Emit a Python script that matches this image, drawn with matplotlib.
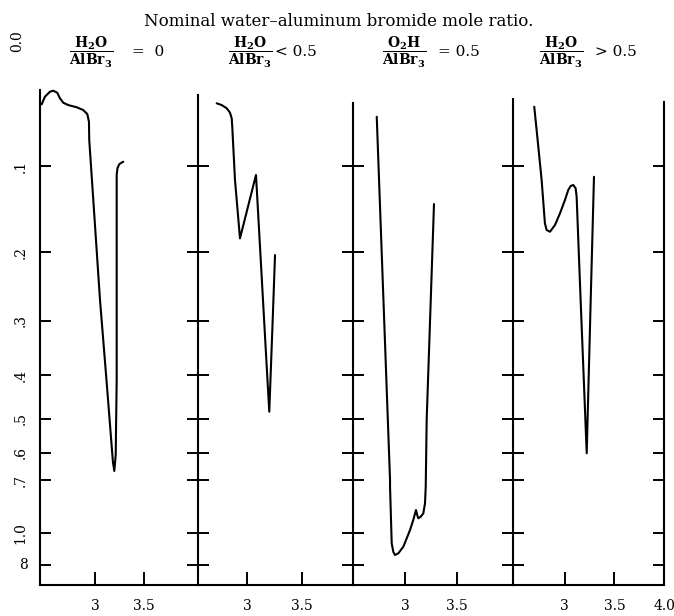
import numpy as np
import matplotlib
matplotlib.use("Agg")
import matplotlib.pyplot as plt

plt.rcParams['font.family'] = ['DejaVu Serif']
plt.rcParams['mathtext.fontset'] = 'dejavuserif'

# ---- spectra: wavelength (microns) vs absorbance, one trace per panel ----
wl_zero = [2.460, 2.493, 2.544, 2.578, 2.618, 2.645, 2.679, 2.729, 2.815, 2.881,
           2.922, 2.939, 2.942, 2.983, 3.051, 3.119, 3.182, 3.196, 3.210, 3.220,
           3.220, 3.220, 3.228, 3.248, 3.287]
abs_zero = [0.0403, 0.0335, 0.0291, 0.0282, 0.0300, 0.0349, 0.0389, 0.0410, 0.0430, 0.0455,
            0.0492, 0.0563, 0.0738, 0.1366, 0.2670, 0.4162, 0.6310, 0.6637, 0.6069, 0.4099,
            0.1969, 0.1093, 0.1020, 0.0978, 0.0955]

wl_low = [2.719, 2.765, 2.811, 2.841, 2.857, 2.862, 2.887, 2.933, 3.080, 3.134,
          3.170, 3.202, 3.230, 3.255]
abs_low = [0.0394, 0.0410, 0.0439, 0.0479, 0.0532, 0.0610, 0.1146, 0.1821, 0.1093, 0.2376,
           0.3507, 0.4825, 0.3153, 0.2035]

wl_half = [2.730, 2.759, 2.794, 2.829, 2.857, 2.857, 2.873, 2.888, 2.904, 2.936,
           2.984, 3.048, 3.079, 3.105, 3.117, 3.127, 3.150, 3.175, 3.191, 3.198,
           3.207, 3.246, 3.277]
abs_half = [0.0517, 0.1366, 0.2670, 0.4543, 0.6994, 0.7280, 1.0975, 1.194, 1.238, 1.2147,
            1.1337, 0.9784, 0.9062, 0.8447, 0.8746, 0.8951, 0.8851, 0.8643, 0.8077, 0.7280,
            0.5039, 0.2670, 0.1412]

wl_high = [2.696, 2.730, 2.770, 2.803, 2.820, 2.854, 2.904, 2.954, 3.004, 3.037,
           3.061, 3.087, 3.111, 3.121, 3.161, 3.193, 3.222, 3.262, 3.295]
abs_high = [0.0425, 0.0738, 0.1146, 0.1637, 0.1718, 0.1739, 0.1657, 0.1519, 0.1366, 0.1255,
            0.1211, 0.1200, 0.1236, 0.1329, 0.2670, 0.4099, 0.6013, 0.2670, 0.1112]

wavelengths = [wl_zero, wl_low, wl_half, wl_high]
absorbances = [abs_zero, abs_low, abs_half, abs_high]

# ---- headings ----
title = "Nominal water\u2013aluminum bromide mole ratio."
fractions = [r"$\dfrac{\mathbf{H_2O}}{\mathbf{AlBr_3}}$",
             r"$\dfrac{\mathbf{H_2O}}{\mathbf{AlBr_3}}$",
             r"$\dfrac{\mathbf{O_2H}}{\mathbf{AlBr_3}}$",
             r"$\dfrac{\mathbf{H_2O}}{\mathbf{AlBr_3}}$"]
relations = ["=  0", "< 0.5", "= 0.5", "> 0.5"]

# ---- axis ticks ----
abs_ticks = [0.1, 0.2, 0.3, 0.4, 0.5, 0.6, 0.7, 1.0, 1.4]
abs_tick_labels = [".1", ".2", ".3", ".4", ".5", ".6", ".7", "1.0", "8"]
wl_ticks = [[3.0, 3.5], [3.0, 3.5], [3.0, 3.5], [3.0, 3.5, 4.0]]
wl_tick_labels = [["3", "3.5"], ["3", "3.5"], ["3", "3.5"], ["3", "3.5", "4.0"]]

# ---- layout (pixels on a 674 x 616 canvas) ----
W, H = 674, 616
panel_left = [40.0, 198.3, 353.3, 512.7]
panel_right = [198.3, 353.3, 512.7, 664.3]
panel_xlim = [(2.443, 4.047), (2.550, 3.974), (2.506, 4.029), (2.48, 4.0)]
axis_top_px, axis_bottom_px = 57.5, 585.0
spine_top = [0.0276, 0.0322, 0.0391, 0.0356]
right_spine_top = 0.0383
abs_floor = 3.0

frac_center_x = [91, 250, 404, 561]
relation_x = [132, 275, 438, 595]


def transmission_depth(a):
    return 1.0 - np.power(10.0, -np.asarray(a, dtype=float))


def depth_to_absorbance(u):
    return -np.log10(np.clip(1.0 - np.asarray(u, dtype=float), 1e-12, None))


fig = plt.figure(figsize=(W / 100, H / 100), dpi=100)
fig.patch.set_facecolor("white")

lw_axis = 1.5
for i in range(4):
    l = panel_left[i] / W
    w = (panel_right[i] - panel_left[i]) / W
    b = 1 - axis_bottom_px / H
    h = (axis_bottom_px - axis_top_px) / H
    ax = fig.add_axes([l, b, w, h])
    ax.set_facecolor("none")
    ax.set_yscale("function", functions=(transmission_depth, depth_to_absorbance))
    ax.set_ylim(abs_floor, 0.0)
    ax.set_xlim(*panel_xlim[i])

    ax.plot(wavelengths[i], absorbances[i], color="black", lw=1.5,
            solid_joinstyle="round", solid_capstyle="round")

    ax.spines["top"].set_visible(False)
    ax.spines["right"].set_visible(i == 3)
    ax.spines["left"].set_bounds(abs_floor, spine_top[i])
    if i == 3:
        ax.spines["right"].set_bounds(abs_floor, right_spine_top)
    for s in ("left", "right", "bottom"):
        ax.spines[s].set_linewidth(lw_axis)

    ax.set_yticks(abs_ticks)
    ax.set_yticklabels(abs_tick_labels if i == 0 else [""] * len(abs_ticks))
    ax.tick_params(axis="y", which="major", direction="in", length=8, width=1.4,
                   left=True, right=True, labelleft=(i == 0), labelright=False,
                   pad=9, labelsize=10)
    ax.minorticks_off()
    if i == 0:
        for lab in ax.get_yticklabels():
            lab.set_rotation(0 if lab.get_text() == "8" else 90)
            lab.set_verticalalignment("center")

    ax.set_xticks(wl_ticks[i])
    ax.set_xticklabels(wl_tick_labels[i])
    ax.tick_params(axis="x", direction="in", length=9.5, width=1.4, pad=10,
                   labelsize=10, top=False)

    fig.text(frac_center_x[i] / W, 1 - 52 / H, fractions[i], ha="center", va="center",
             fontsize=10)
    fig.text(relation_x[i] / W, 1 - 52 / H, relations[i], ha="left", va="center",
             fontsize=11)

fig.text(339 / W, 1 - 21 / H, title, ha="center", va="center", fontsize=12)
fig.text(17 / W, 1 - 41 / H, "0.0", rotation=90, ha="center", va="center", fontsize=10)

fig.savefig("out.png", dpi=100, facecolor="white")
